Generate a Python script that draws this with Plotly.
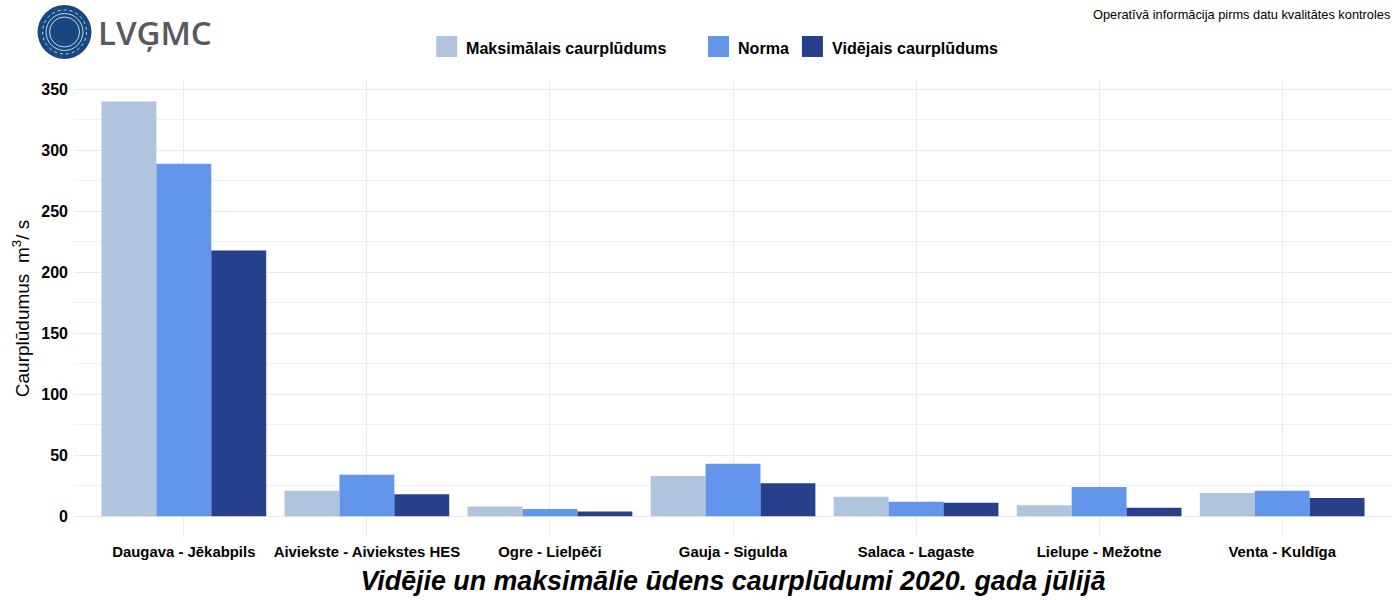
import plotly.graph_objects as go

stations = ["Daugava - Jēkabpils", "Aiviekste - Aiviekstes HES", "Ogre - Lielpēči", "Gauja - Sigulda",
            "Salaca - Lagaste", "Lielupe - Mežotne", "Venta - Kuldīga"]
max_flow = [340, 21, 8, 33, 16, 9, 19]
norm_flow = [289, 34, 6, 43, 12, 24, 21]
mean_flow = [218, 18, 4, 27, 11, 7, 15]
series_names = ["Maksimālais caurplūdums", "Norma", "Vidējais caurplūdums"]
series_colors = ["#B0C4DE", "#6495ED", "#27408B"]
y_ticks = [0, 50, 100, 150, 200, 250, 300, 350]
title_text = "Vidējie un maksimālie ūdens caurplūdumi 2020. gada jūlijā"
note_text = "Operatīvā informācija pirms datu kvalitātes kontroles"
y_title = "Caurplūdumus  m<sup>3</sup>/ s"

FONT = "Liberation Sans"
L, R, T, B = 73.5, 1392.5, 80, 537

def px(x):
    return (x - L) / (R - L)

def py(y):
    return (B - y) / (B - T)

fig = go.Figure()
for name, vals, col in zip(series_names, [max_flow, norm_flow, mean_flow], series_colors):
    fig.add_trace(go.Bar(x=stations, y=vals, name=name, marker=dict(color=col, line=dict(width=0)),
                         showlegend=False))

shapes = []
annotations = []

# legend key row
legend_boxes = [436, 708, 802]
for name, col, x0 in zip(series_names, series_colors, legend_boxes):
    shapes.append(dict(type="rect", xref="paper", yref="paper", x0=px(x0), x1=px(x0 + 21),
                       y0=py(57), y1=py(36), fillcolor=col, line=dict(width=0)))
    annotations.append(dict(text=name, xref="paper", yref="paper", x=px(x0 + 28), y=py(48.5),
                            xanchor="left", yanchor="middle", showarrow=False,
                            font=dict(family=FONT, size=16.1, color="black", weight=700)))

# logo
shapes.append(dict(type="circle", xref="paper", yref="paper", x0=px(37), x1=px(91), y0=py(59), y1=py(5),
                   fillcolor="#17487F", line=dict(width=0)))
for r, d in [(22, "dot"), (18.5, "solid"), (15, "solid")]:
    shapes.append(dict(type="circle", xref="paper", yref="paper", x0=px(64 - r), x1=px(64 + r),
                       y0=py(32 + r), y1=py(32 - r), fillcolor="rgba(0,0,0,0)",
                       line=dict(width=1, color="#C9D7E6", dash=d)))
annotations.append(dict(text="LVĢMC", xref="paper", yref="paper", x=px(96), y=py(32), xanchor="left",
                        yanchor="middle", showarrow=False,
                        font=dict(family="Open Sans", size=33, color="#58595B", weight=600)))

# top-right note
annotations.append(dict(text=note_text, xref="paper", yref="paper", x=px(1392), y=py(15), xanchor="right",
                        yanchor="middle", showarrow=False,
                        font=dict(family=FONT, size=12.8, color="black")))

fig.update_layout(
    width=1400, height=600, barmode="group", bargap=0.1, bargroupgap=0,
    margin=dict(l=L, r=1400 - R, t=T, b=600 - B, pad=0),
    plot_bgcolor="white", paper_bgcolor="white", showlegend=False,
    font=dict(family=FONT, color="black"),
    title=dict(text=title_text, x=0.5, xref="paper", xanchor="center", y=1 - 581 / 600, yref="container",
               yanchor="middle", font=dict(family=FONT, size=26.8, color="black", weight=700, style="italic")),
    shapes=shapes, annotations=annotations,
    xaxis=dict(type="category", categoryorder="array", categoryarray=stations, range=[-0.6, 6.6],
               showgrid=True, gridcolor="#EBEBEB",
               gridwidth=1, zeroline=False, showline=False, ticks="", automargin=False, ticklabelstandoff=4,
               tickfont=dict(family=FONT, size=14.9, color="black", weight=700)),
    yaxis=dict(range=[-17, 357.7], tickmode="array", tickvals=y_ticks, showgrid=True, gridcolor="#EBEBEB",
               gridwidth=1, zeroline=False, showline=False, ticks="", automargin=False, ticklabelstandoff=5,
               minor=dict(dtick=25, tick0=0, showgrid=True, gridcolor="#F0F0F0", gridwidth=1),
               tickfont=dict(family=FONT, size=16, color="black", weight=700),
               title=dict(text=y_title, font=dict(family=FONT, size=19, color="black"), standoff=6)),
)

fig.write_html("out.html", config=dict(displayModeBar=False),
               post_script="document.body.style.margin='0';document.documentElement.style.overflow='hidden';")
